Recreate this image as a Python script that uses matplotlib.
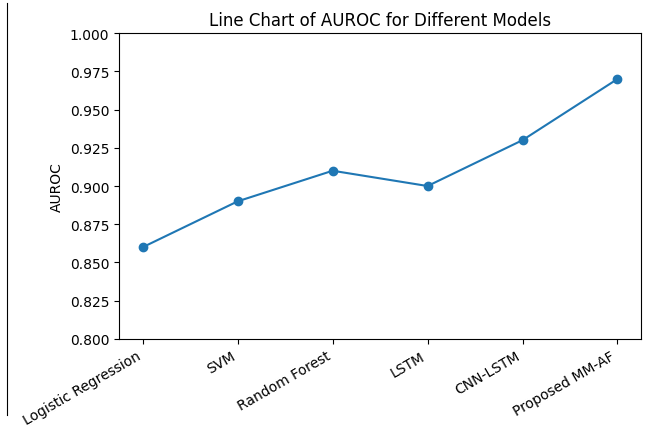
import matplotlib

matplotlib.use("Agg")
import matplotlib.pyplot as plt
from matplotlib.lines import Line2D

models = ["Logistic Regression", "SVM", "Random Forest", "LSTM", "CNN-LSTM", "Proposed MM-AF"]
auroc = [0.86, 0.89, 0.91, 0.90, 0.93, 0.97]

fig = plt.figure(figsize=(6.47, 4.27), dpi=100)
ax = fig.add_axes([0.184, 0.204, 0.807, 0.716])
ax.plot(models, auroc, marker="o", color="#1f77b4")
ax.set_ylim(0.8, 1.0)
ax.set_ylabel("AUROC")
ax.set_title("Line Chart of AUROC for Different Models")
plt.setp(ax.get_xticklabels(), rotation=30, ha="right")

# thin border line at the left edge of the screenshot
fig.add_artist(Line2D([0.011, 0.011], [0.025, 0.99], color="black", lw=0.8, transform=fig.transFigure))

fig.savefig("out.png", dpi=100)
